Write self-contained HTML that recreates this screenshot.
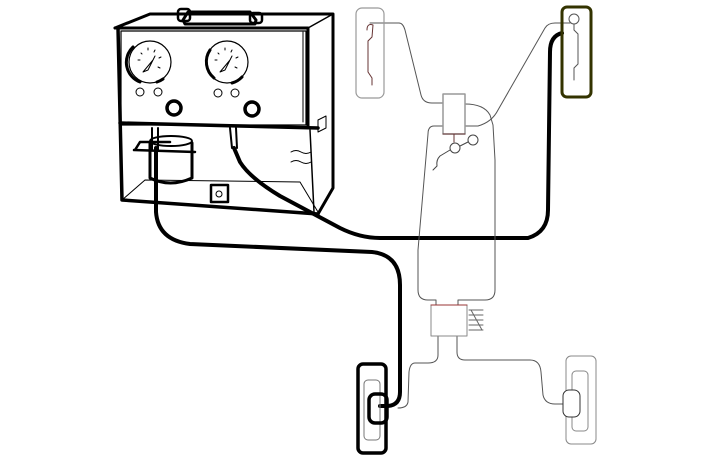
<!DOCTYPE html>
<html><head><meta charset="utf-8"><style>html,body{margin:0;padding:0;background:#fff}svg{display:block}</style></head>
<body>
<svg width="705" height="470" viewBox="0 0 705 470" xmlns="http://www.w3.org/2000/svg" fill="none" stroke-linecap="round" stroke-linejoin="round">
<!-- Cabinet -->
<g stroke="#000">
  <path d="M115 28 L150 14 L333 14 L333 188 L318 214" stroke-width="3"/>
  <path d="M115 28 L308 28 L308 126" stroke-width="3"/>
  <path d="M308 28 L333 14" stroke-width="1.5"/>
  <path d="M118 28 L122 200 L318 214" stroke-width="3.5"/>
  <rect x="121" y="31" width="185" height="94" stroke-width="1.2"/>
  <path d="M303 32 L303 122" stroke-width="1"/>
  <path d="M120 123 L318 128" stroke-width="3.5"/>
  <path d="M310 130 L314 212" stroke-width="1.5"/>
  <path d="M122 200 L145 180 L300 182 L318 212" stroke-width="1"/>
  <path d="M333 15 L333 188 L318 213" stroke-width="1.5"/>
  <path d="M318 120 L326 116 L326 128 L318 132 Z" stroke-width="1"/>
  <path d="M291 152 q5 -3 10 0 t10 0 M291 162 q5 -3 10 0 t10 0" stroke-width="1"/>
  <!-- handle -->
  <path d="M183 20 L188 12 L250 12 L256 20 L255 24 L185 24 Z" stroke-width="3"/>
  <rect x="178" y="9" width="12" height="12" rx="3" stroke-width="2.5"/>
  <rect x="250" y="13" width="12" height="10" rx="3" stroke-width="2.5"/>
  <!-- gauges -->
  <circle cx="150" cy="62" r="21" stroke-width="1.2"/>
  <path d="M140 82 A21 21 0 0 1 133 47" stroke-width="3"/>
  <path d="M157 82 A21 21 0 0 0 163 79" stroke-width="3"/>
  <circle cx="227" cy="62" r="21" stroke-width="1.2"/>
  <path d="M214 78 A21 21 0 0 1 210 50" stroke-width="3"/>
  <path d="M232 83 A21 21 0 0 0 242 77" stroke-width="3"/>
  <path d="M143 72 L153 60 L155 56 L148 70 Z M220 72 L230 60 L232 56 L225 70 Z" stroke-width="1"/>
  <path d="M138 60 l2 0 M141 53 l1 1 M148 48 l0 2 M155 50 l-1 2 M161 57 l-2 1 M160 68 l-2 -1 M215 60 l2 0 M218 53 l1 1 M225 48 l0 2 M232 50 l-1 2 M238 57 l-2 1 M237 68 l-2 -1" stroke-width="1"/>
  <circle cx="140" cy="92" r="4" stroke-width="1"/>
  <circle cx="158" cy="92" r="4" stroke-width="1"/>
  <circle cx="218" cy="93" r="4" stroke-width="1"/>
  <circle cx="235" cy="93" r="4" stroke-width="1"/>
  <circle cx="174" cy="108" r="7" stroke-width="3.5"/>
  <circle cx="252" cy="109" r="7" stroke-width="3.5"/>
  <!-- jar -->
  <path d="M150 143 L150 178 Q170 188 192 178 L192 143" stroke-width="3"/>
  <ellipse cx="171" cy="141" rx="21" ry="5" stroke-width="2"/>
  <path d="M135 150 L140 142 L170 142 M134 150 L195 152" stroke-width="2.5"/>
  <path d="M152 128 L152 150 M158 128 L158 150" stroke-width="2"/>
  <path d="M230 128 L232 148 M236 128 L237 148" stroke-width="2"/>
  <!-- switch -->
  <rect x="211" y="185" width="17" height="17" stroke-width="2.5"/>
  <circle cx="219" cy="194" r="3" stroke-width="1"/>
</g>
<!-- thick hoses -->
<path d="M156 148 L156 212 Q158 240 190 244 L372 252 Q400 255 400 285 L400 392 Q400 405 388 406 L380 406" stroke="#000" stroke-width="4"/>
<path d="M234 148 L240 162 Q250 178 280 196 L340 228 Q360 238 380 238 L528 238 Q548 232 548 210 L550 52 Q550 36 562 33" stroke="#000" stroke-width="4"/>
<!-- thin body lines -->
<g stroke="#555" stroke-width="1">
  <path d="M370 23 L399 23 Q403 23 405 30 L421 95 Q423 103 432 103 L443 103"/>
  <path d="M443 126 L434 126 Q428 126 428 134 L418 250 L418 290 Q418 300 428 300 L436 300 L436 305"/>
  <path d="M465 104 Q484 104 490 115 L493 125 L495 160 L495 290 Q495 300 485 300 L458 300 L458 305"/>
  <path d="M465 126 L478 126 Q492 122 498 110 L545 28 Q548 23 555 23 L570 23"/>
  <path d="M438 336 L438 355 Q438 363 428 363 L415 363 Q410 363 409 372 L408 402 Q407 408 398 408"/>
  <path d="M457 336 L457 352 Q457 360 465 360 L530 360 Q540 360 541 372 L543 395 Q545 404 555 404 L563 404"/>
</g>
<!-- master cylinder -->
<rect x="443" y="94" width="22" height="40" stroke="#999" stroke-width="1.5"/>
<path d="M454 134 L454 142 M443 134 L465 134" stroke="#633" stroke-width="1"/>
<g stroke="#444" stroke-width="1">
  <circle cx="455" cy="148" r="5"/>
  <circle cx="473" cy="140" r="5"/>
  <path d="M460 146 L468 142 M450 150 L440 156 Q436 160 437 166 L433 170"/>
</g>
<!-- valve -->
<rect x="431" y="305" width="36" height="31" stroke="#888" stroke-width="1"/>
<path d="M431 305 L467 305" stroke="#933" stroke-width="1"/>
<path d="M469 310 L483 310 M469 315 L483 315 M469 320 L483 320 M469 325 L483 325 M469 330 L483 330 M471 310 L482 330" stroke="#666" stroke-width="1"/>
<!-- wheels -->
<rect x="356" y="8" width="28" height="90" rx="6" stroke="#999" stroke-width="1.2"/>
<path d="M367 30 Q367 23 373 25 L372 37 L368 41 L368 72 L372 78 L372 85" stroke="#633" stroke-width="1"/>
<rect x="562" y="7" width="29" height="90" rx="5" stroke="#333300" stroke-width="3"/>
<circle cx="574" cy="19" r="5" stroke="#555" stroke-width="1"/>
<path d="M574 24 L574 30 L578 34 L578 64 L574 68 L574 80" stroke="#555" stroke-width="1"/>
<rect x="358" y="364" width="28" height="89" rx="5" stroke="#000" stroke-width="3.5"/>
<rect x="364" y="380" width="16" height="60" rx="4" stroke="#777" stroke-width="1"/>
<rect x="369" y="394" width="18" height="29" rx="6" stroke="#000" stroke-width="3.5"/>
<rect x="566" y="356" width="30" height="88" rx="5" stroke="#888" stroke-width="1"/>
<rect x="572" y="371" width="16" height="60" rx="4" stroke="#888" stroke-width="1"/>
<rect x="563" y="390" width="17" height="27" rx="6" fill="#fff" stroke="#333" stroke-width="1"/>
</svg>
</body></html>
